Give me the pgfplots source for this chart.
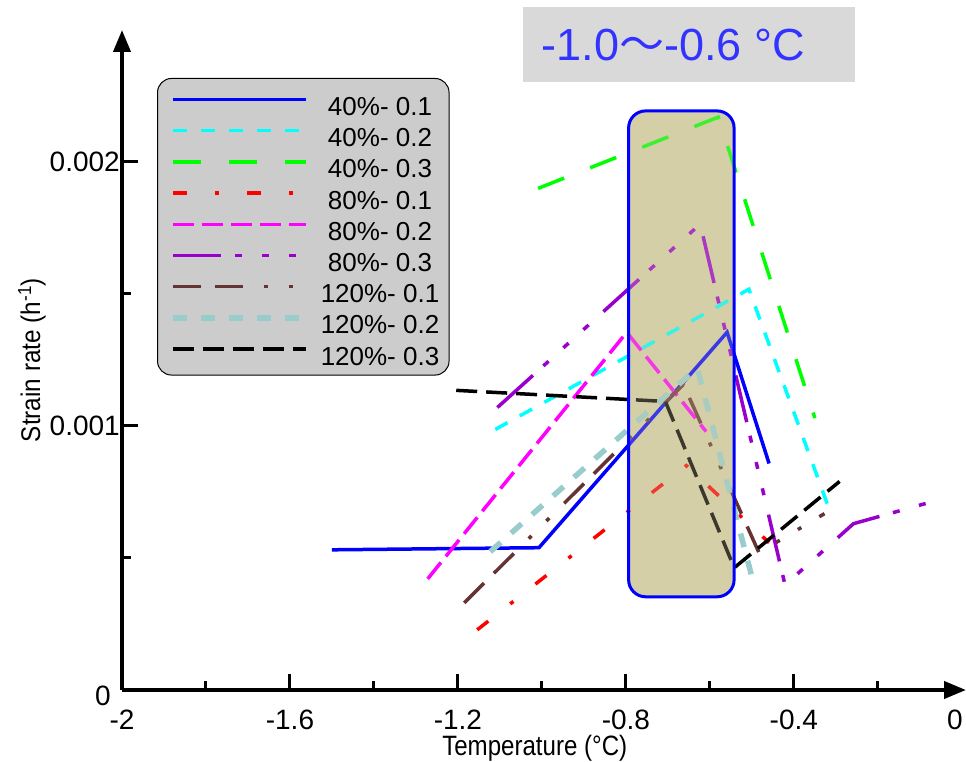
\documentclass[border=0pt]{standalone}
\usepackage{fontspec}
\setmainfont{Liberation Sans}
\newfontfamily\cjk{Noto Sans CJK SC}
\usepackage{pgfplots}
\pgfplotsset{compat=1.18}
\usetikzlibrary{arrows.meta}

\definecolor{cBlue}{HTML}{0000FF}
\definecolor{cCyan}{HTML}{00FFFF}
\definecolor{cGreen}{HTML}{00FF00}
\definecolor{cRed}{HTML}{FF0000}
\definecolor{cMagenta}{HTML}{FF00FF}
\definecolor{cPurple}{HTML}{9900CC}
\definecolor{cBrown}{HTML}{663333}
\definecolor{cTeal}{HTML}{99CCCC}
\definecolor{boxTan}{HTML}{D4CFA6}
\definecolor{legGray}{HTML}{CCCCCC}
\definecolor{titleGray}{HTML}{D9D9D9}
\definecolor{titleBlue}{HTML}{3333FF}

\begin{document}
\begin{tikzpicture}
\begin{axis}[
  at={(0pt,0pt)}, anchor=south west,
  scale only axis, width=844pt, height=660pt,
  xmin=-2, xmax=0.01, ymin=0, ymax=0.0025,
  clip=false,
  axis x line=bottom, axis y line=left,
  axis line style={line width=4pt, -{Triangle[length=22pt,width=17pt]}},
  xtick={-2,-1.6,-1.2,-0.8,-0.4},
  xticklabels={-2,-1.6,-1.2,-0.8,-0.4},
  extra x ticks={0}, extra x tick labels={0},
  extra x tick style={major tick length=0pt, xticklabel style={xshift=-7pt}},
  minor xtick={-1.8,-1.4,-1.0,-0.6,-0.2},
  ytick={0.001,0.002}, yticklabels={0.001,0.002},
  extra y ticks={0}, extra y tick labels={0},
  extra y tick style={major tick length=0pt, yticklabel style={xshift=-9pt, yshift=-6pt}},
  minor ytick={0.0005,0.0015},
  scaled y ticks=false,
  tick align=inside,
  major tick length=16pt, minor tick length=9pt,
  tick style={black, line width=3pt},
  /pgf/number format/assume math mode=true,
  tick label style={font=\fontsize{28}{28}\selectfont, inner sep=0pt},
  xticklabel style={yshift=-20pt},
  yticklabel style={xshift=-2pt},
  xlabel={\scalebox{0.86}[1]{Temperature (°C)}},
  ylabel={\scalebox{0.9}[1]{Strain rate (h\textsuperscript{-1})}},
  label style={font=\fontsize{27}{27}\selectfont},
  xlabel style={at={(axis description cs:0.489,0)}, anchor=center, yshift=-58pt, font=\fontsize{28}{28}\selectfont},
  ylabel style={at={(axis description cs:-0.1066,0.5)}, anchor=center},
  legend style={
    at={(axis description cs:0.0415,0.9273)}, anchor=north west,
    fill=legGray, draw=black, line width=1pt, rounded corners=14pt,
    font=\fontsize{26}{26}\selectfont,
    inner xsep=13pt, inner ysep=10pt,
    row sep=4.2pt, column sep=15pt,
    nodes={inner sep=0pt, text height=18pt, text depth=0pt},
    cells={anchor=center},
  },
  legend image code/.code={
    \path[draw=none, fill=none] (0pt,-9pt) rectangle (133pt,18pt);
    \draw[#1] (0pt,7pt) -- (133pt,7pt);
  },
]

% shaded temperature window, drawn beneath the curves
\fill[boxTan, rounded corners=17pt] (axis cs:-0.7935,0.000353) rectangle (axis cs:-0.5423,0.0021935);

\addplot[cBlue, line width=3.5pt] coordinates {
  (-1.500,0.000531) (-1.007,0.000539) (-0.559,0.001355) (-0.459,0.000858)};
\addlegendentry{\makebox[112pt]{40\%- 0.1}}

\addplot[cCyan, line width=3.5pt, dash pattern=on 14pt off 14pt] coordinates {
  (-1.111,0.000987) (-0.507,0.001518) (-0.310,0.000660)};
\addlegendentry{\makebox[112pt]{40\%- 0.2}}

\addplot[cGreen, line width=3.5pt, dash pattern=on 28pt off 28pt] coordinates {
  (-1.009,0.001900) (-0.580,0.002170) (-0.350,0.001030)};
\addlegendentry{\makebox[112pt]{40\%- 0.3}}

\addplot[cRed, line width=3.5pt, dash pattern=on 14pt off 28pt on 4pt off 28pt] coordinates {
  (-1.154,0.000228) (-0.656,0.000850) (-0.459,0.000558)};
\addlegendentry{\makebox[112pt]{80\%- 0.1}}

\addplot[cMagenta, line width=3.5pt, dash pattern=on 21pt off 8pt] coordinates {
  (-1.272,0.000421) (-0.798,0.001355) (-0.609,0.000979)};
\addlegendentry{\makebox[112pt]{80\%- 0.2}}

\addplot[cPurple, line width=3.5pt, dash pattern=on 48pt off 14pt on 7pt off 20pt on 7pt off 20pt on 7pt off 20pt] coordinates {
  (-1.106,0.001070) (-0.623,0.001765) (-0.421,0.000398) (-0.258,0.000630) (-0.078,0.000710)};
\addlegendentry{\makebox[112pt]{80\%- 0.3}}

\addplot[cBrown, line width=3.5pt, dash pattern=on 28pt off 14pt on 28pt off 21pt on 4pt off 21pt on 4pt off 21pt] coordinates {
  (-1.185,0.000330) (-0.663,0.001157) (-0.483,0.000520) (-0.327,0.000668)};
\addlegendentry{\makebox[112pt]{120\%- 0.1}}

\addplot[cTeal, line width=5.5pt, dash pattern=on 14pt off 14pt] coordinates {
  (-1.123,0.000524) (-0.630,0.001220) (-0.500,0.000429)};
\addlegendentry{\makebox[112pt]{120\%- 0.2}}

\addplot[black, line width=3.5pt, dash pattern=on 21pt off 9pt] coordinates {
  (-1.204,0.001135) (-0.706,0.001093) (-0.542,0.000463) (-0.291,0.000790)};
\addlegendentry{\makebox[112pt]{120\%- 0.3}}

% tint over the curves inside the window, then its outline
\fill[boxTan, fill opacity=0.28, rounded corners=17pt] (axis cs:-0.7935,0.000353) rectangle (axis cs:-0.5423,0.0021935);
\draw[cBlue, line width=3pt, rounded corners=17pt] (axis cs:-0.7935,0.000353) rectangle (axis cs:-0.5423,0.0021935);

% range caption
\fill[titleGray] (axis cs:-1.0448,0.0023036) rectangle (axis cs:-0.2555,0.002588);
\node[text=titleBlue, font=\fontsize{45}{45}\selectfont, inner sep=0pt] at (axis cs:-0.6869,0.002444) {-1.0{\cjk ～}-0.6 °C};
\end{axis}
\pgfresetboundingbox
\path[use as bounding box] (-122pt,-72pt) rectangle (844pt,690pt);
\end{tikzpicture}
\end{document}
